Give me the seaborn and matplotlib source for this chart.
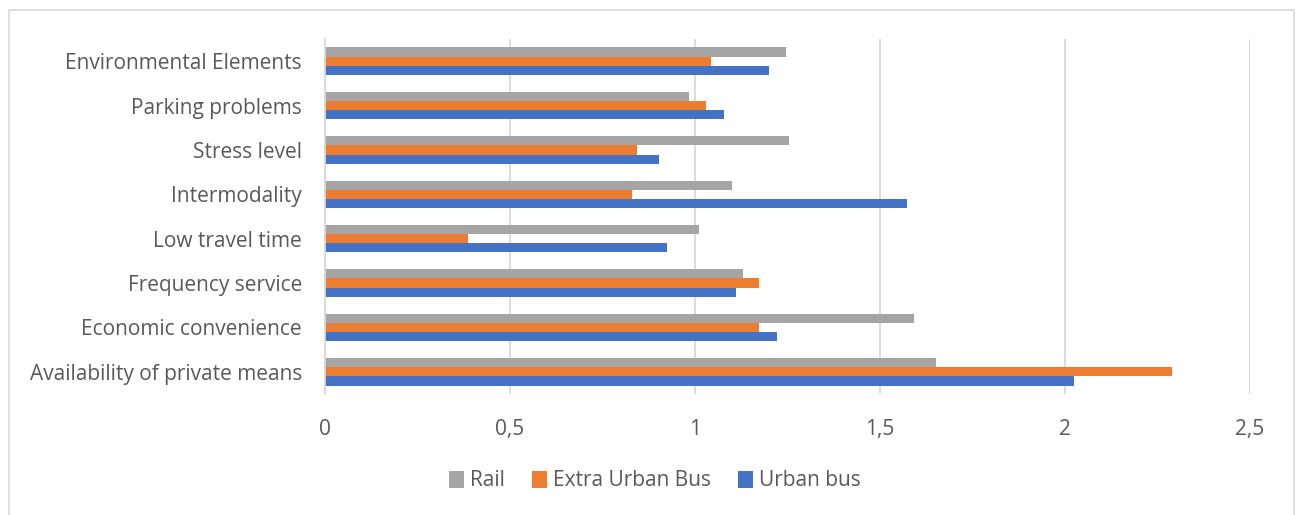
import matplotlib
matplotlib.use("Agg")
import matplotlib.pyplot as plt
import seaborn as sns
import pandas as pd
from matplotlib.patches import Rectangle
from matplotlib.ticker import FuncFormatter

categories = ["Environmental Elements", "Parking problems", "Stress level", "Intermodality",
              "Low travel time", "Frequency service", "Economic convenience",
              "Availability of private means"]
rail = [1.245, 0.985, 1.255, 1.099, 1.012, 1.129, 1.591, 1.651]
extra_urban_bus = [1.044, 1.029, 0.843, 0.830, 0.386, 1.172, 1.172, 2.288]
urban_bus = [1.200, 1.078, 0.902, 1.572, 0.924, 1.110, 1.221, 2.023]
series_names = ["Rail", "Extra Urban Bus", "Urban bus"]
x_ticks = [0, 0.5, 1, 1.5, 2, 2.5]

colors = ["#A5A5A5", "#ED7D31", "#4472C4"]
text_color = "#595959"

rows = []
for name, vals in zip(series_names, [rail, extra_urban_bus, urban_bus]):
    for c, v in zip(categories, vals):
        rows.append({"category": c, "series": name, "value": v})
df = pd.DataFrame(rows)

sns.set_style("white")
plt.rcParams["font.family"] = ["Open Sans", "DejaVu Sans"]

fig = plt.figure(figsize=(12.96, 5.15), dpi=100)
ax = fig.add_axes([325/1296, 1 - 394/515, (1250-325)/1296, (394-39)/515])

sns.barplot(data=df, y="category", x="value", hue="series", order=categories,
            hue_order=series_names, palette=colors, orient="h", width=0.62,
            saturation=1, ax=ax, legend=True, linewidth=0)

ax.set_xlim(0, 2.5)
ax.set_xticks(x_ticks)
ax.xaxis.set_major_formatter(FuncFormatter(lambda v, p: f"{v:g}".replace(".", ",")))
ax.grid(axis="x", color="#D9D9D9", linewidth=1.3)
ax.set_axisbelow(True)
for s in ["top", "right", "bottom"]:
    ax.spines[s].set_visible(False)
ax.spines["left"].set_color("#D9D9D9")
ax.spines["left"].set_linewidth(1.3)
ax.set_xlabel("")
ax.set_ylabel("")
ax.tick_params(axis="both", length=0, labelsize=15, colors=text_color)
ax.tick_params(axis="x", pad=18)
ax.tick_params(axis="y", pad=16.5)

leg = ax.legend(loc="center", bbox_to_anchor=(655/1296, 1 - 481/515),
                bbox_transform=fig.transFigure, ncol=3, frameon=False,
                fontsize=15, handlelength=0.7, handleheight=0.9,
                columnspacing=1.3, handletextpad=0.3)
for t in leg.get_texts():
    t.set_color(text_color)

fig.patches.append(Rectangle((9/1296, -0.01), (1294-9)/1296, 1 - 10/515 + 0.01,
                             transform=fig.transFigure, fill=False,
                             edgecolor="#D9D9D9", linewidth=1.2))

fig.savefig("out.png", dpi=100, facecolor="white")
